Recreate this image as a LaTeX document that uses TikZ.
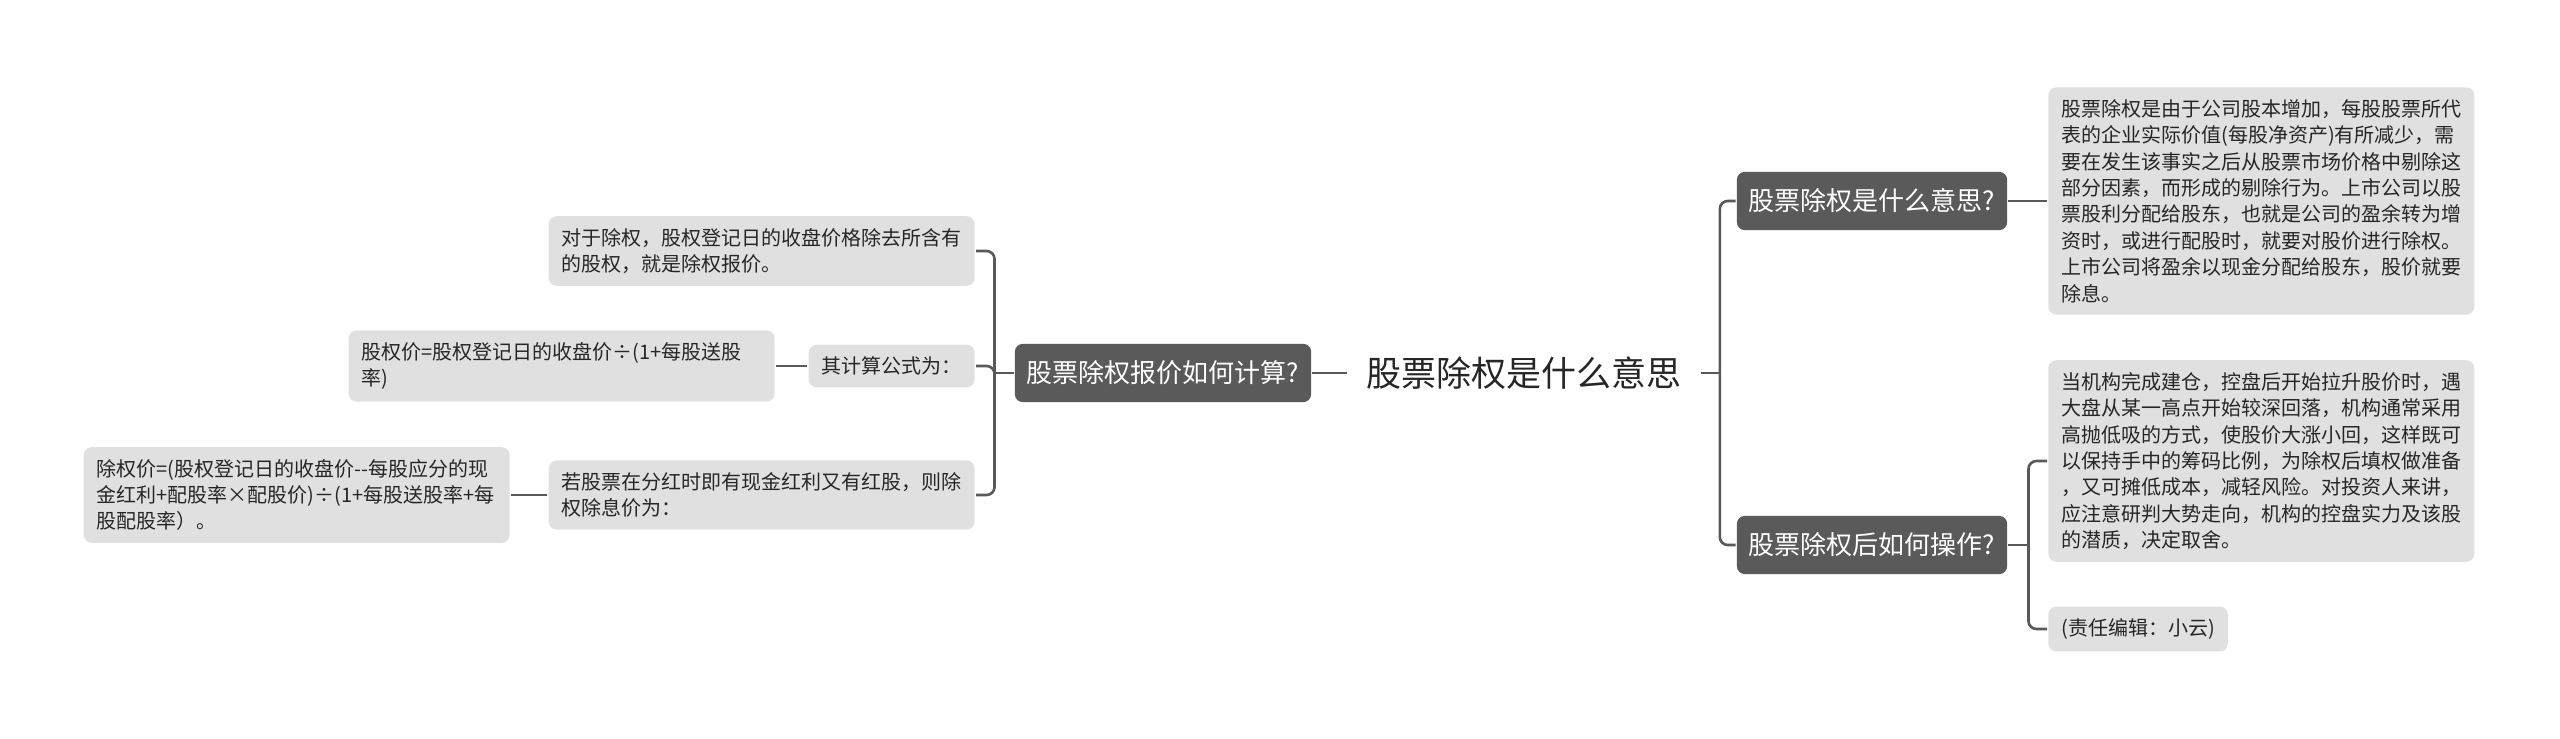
\documentclass[tikz,border=0pt]{standalone}
\usepackage{fontspec}
\setmainfont{Noto Sans CJK SC}[Ligatures=TeXOff]
\definecolor{linkgray}{HTML}{595959}
\definecolor{topicgray}{HTML}{5A5A5A}
\definecolor{leafgray}{HTML}{E0E0E0}
\definecolor{inkgray}{HTML}{262626}
\begin{document}
\begin{tikzpicture}[x=0.5pt, y=-0.5pt, line width=1.3pt, text=inkgray,
		link/.style={draw=linkgray, rounded corners=4pt},
		topic/.style={fill=topicgray, text=white, rounded corners=4pt, inner xsep=6pt, inner ysep=8.5pt, font=\fontsize{13pt}{15pt}\selectfont},
		leaf/.style={fill=leafgray, rounded corners=4pt, inner xsep=6.5pt, inner ysep=6pt, font=\fontsize{10pt}{13.2pt}\selectfont},
		note/.style={leaf, text width=200pt, align=left}]
	\useasboundingbox (0,0) rectangle (2560,739);
	\node[font=\fontsize{17.5pt}{20pt}\selectfont, inner xsep=9pt] (root) at (1524,373) {股票除权是什么意思};
	\node[topic] (whatq) at (1872,201) {股票除权是什么意思?};
	\node[topic] (howop) at (1872,545) {股票除权后如何操作?};
	\node[topic] (calcq) at (1163,373) {股票除权报价如何计算?};
	% right side
	\node[note, anchor=west] (defn) at (2047,201) {股票除权是由于公司股本增加，每股股票所代\\表的企业实际价值(每股净资产)有所减少，需\\要在发生该事实之后从股票市场价格中剔除这\\部分因素，而形成的剔除行为。上市公司以股\\票股利分配给股东，也就是公司的盈余转为增\\资时，或进行配股时，就要对股价进行除权。\\上市公司将盈余以现金分配给股东，股价就要\\除息。};
	\node[note, anchor=west] (opsn) at (2047,461) {当机构完成建仓，控盘后开始拉升股价时，遇\\大盘从某一高点开始较深回落，机构通常采用\\高抛低吸的方式，使股价大涨小回，这样既可\\以保持手中的筹码比例，为除权后填权做准备\\，又可摊低成本，减轻风险。对投资人来讲，\\应注意研判大势走向，机构的控盘实力及该股\\的潜质，决定取舍。};
	\node[leaf, anchor=west] (editor) at (2047,629) {(责任编辑：小云)};
	% left side
	\node[note, anchor=east] (quote) at (976,251) {对于除权，股权登记日的收盘价格除去所含有\\的股权，就是除权报价。};
	\node[leaf, anchor=east] (formula) at (976,366) {其计算公式为：};
	\node[note, anchor=east] (mixed) at (976,495) {若股票在分红时即有现金红利又有红股，则除\\权除息价为：};
	\node[note, anchor=east] (bonus) at (776,366) {股权价=股权登记日的收盘价÷(1+每股送股\\率)};
	\node[note, anchor=east] (exdiv) at (511,495) {除权价=(股权登记日的收盘价--每股应分的现\\金红利+配股率×配股价)÷(1+每股送股率+每\\股配股率）。};
	% connectors
	\draw[link] (root.east) -- ++(19,0) coordinate (rs);
	\foreach \t in {whatq,howop} \draw[link] (rs) |- (\t.west);
	\draw[link] (whatq.east) -- (defn.west);
	\draw[link] (howop.east) -- ++(20,0) coordinate (hs);
	\foreach \t in {opsn,editor} \draw[link] (hs) |- (\t.west);
	\draw[link] (calcq.east) -- (root.west);
	\draw[link] (calcq.west) -- ++(-19,0) coordinate (ls);
	\foreach \t in {quote,formula,mixed} \draw[link] (ls) |- (\t.east);
	\draw[link] (bonus.east) -- (formula.west);
	\draw[link] (exdiv.east) -- (mixed.west);
\end{tikzpicture}
\end{document}
